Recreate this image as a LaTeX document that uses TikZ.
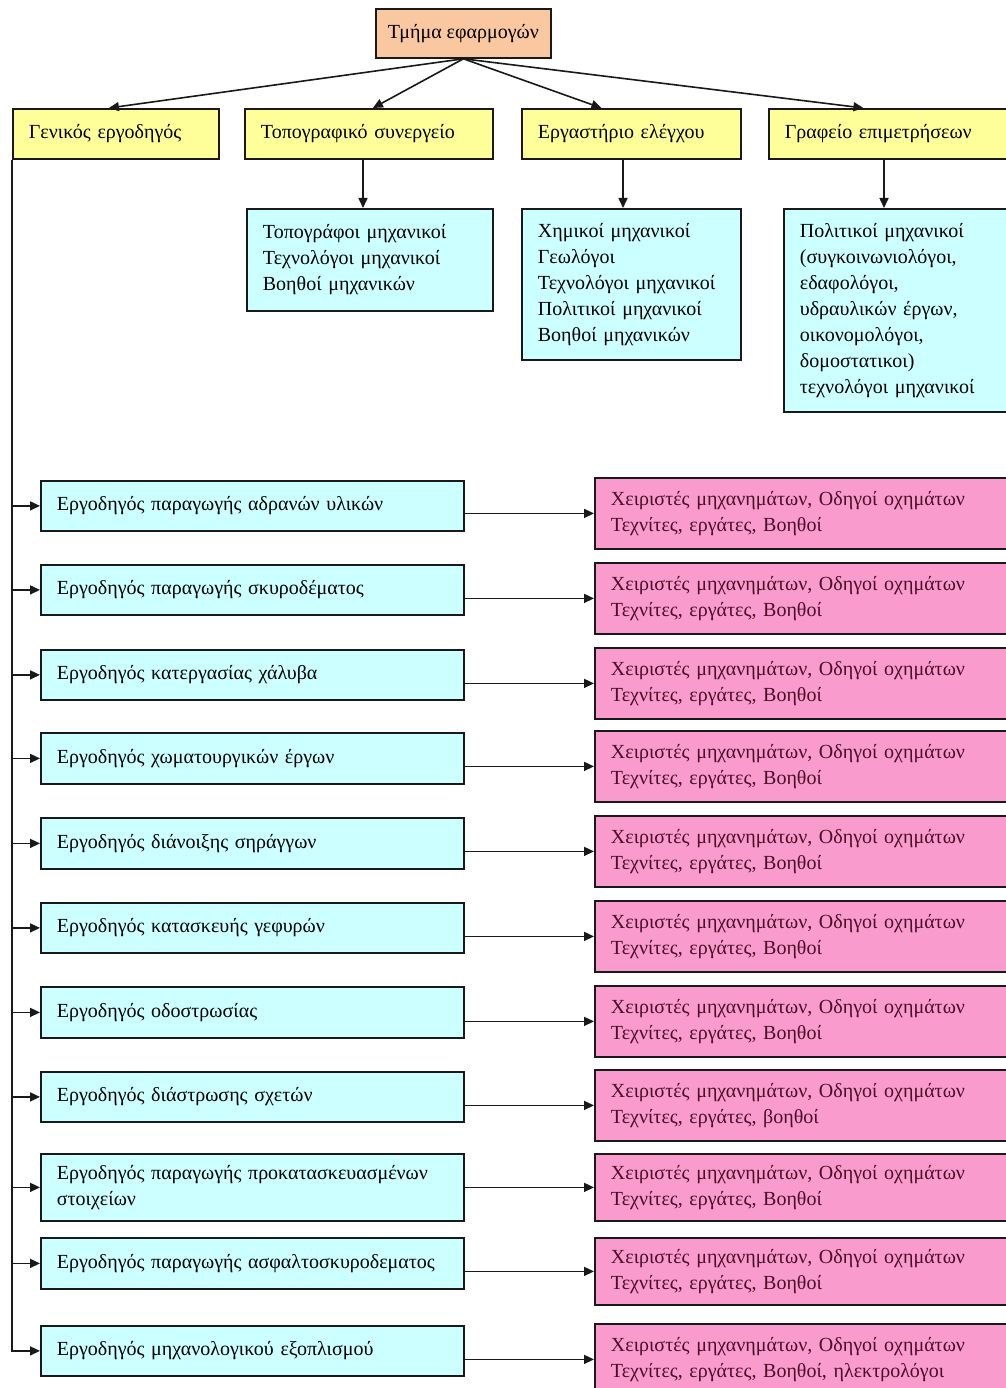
\documentclass[tikz,border=0pt]{standalone}
\usepackage{fontspec}
\setmainfont{Liberation Serif}
\usetikzlibrary{arrows.meta}
\definecolor{orangebox}{RGB}{250,200,160}
\definecolor{yellowbox}{RGB}{255,255,153}
\definecolor{cyanbox}{RGB}{204,255,255}
\definecolor{pinkbox}{RGB}{250,155,205}
\definecolor{pinktext}{RGB}{75,15,40}
\definecolor{edge}{RGB}{25,25,25}
\begin{document}
\begin{tikzpicture}[x=1pt,y=-1pt,
  bx/.style={draw=edge, line width=1.8pt, anchor=north west, align=left,
    inner xsep=16pt, inner ysep=0pt, font=\fontsize{20}{26}\selectfont},
  ob/.style={bx, fill=orangebox, inner xsep=4pt, align=center},
  yb/.style={bx, fill=yellowbox, minimum height=50pt},
  cb/.style={bx, fill=cyanbox},
  lb/.style={bx, fill=cyanbox, text width=391pt},
  pb/.style={bx, fill=pinkbox, text width=387pt, text=pinktext},
  arr/.style={draw=edge, line width=1.6pt, -{Triangle[length=10pt,width=9pt]}}
]
\useasboundingbox[fill=white] (0,0) rectangle (1005,1388);

% top
\node[ob, minimum width=175pt, minimum height=49pt] (top) at (375,8) {Τμήμα εφαρμογών};

% yellow row
\node[yb, text width=174pt] (gen) at (12,108) {Γενικός εργοδηγός};
\node[yb, text width=216pt] (topo) at (244,108) {Τοπογραφικό συνεργείο};
\node[yb, text width=187pt] (erg) at (521,108) {Εργαστήριο ελέγχου};
\node[yb, text width=213pt] (graf) at (768,108) {Γραφείο επιμετρήσεων};

% cyan staff boxes
\node[cb, text width=214pt, minimum height=102pt] (c1) at (246,208)
  {Τοπογράφοι μηχανικοί\\Τεχνολόγοι μηχανικοί\\Βοηθοί μηχανικών};
\node[cb, text width=187pt, minimum height=151pt] (c2) at (521,208)
  {Χημικοί μηχανικοί\\Γεωλόγοι\\Τεχνολόγοι μηχανικοί\\Πολιτικοί μηχανικοί\\Βοηθοί μηχανικών};
\node[cb, text width=198pt, minimum height=203pt] (c3) at (783,208)
  {Πολιτικοί μηχανικοί\\(συγκοινωνιολόγοι,\\εδαφολόγοι,\\υδραυλικών έργων,\\οικονομολόγοι,\\δομοστατικοι)\\τεχνολόγοι μηχανικοί};

% top arrows
\draw[arr] (top.south) -- ([xshift=-7pt]gen.north);
\draw[arr] (top.south) -- ([xshift=4pt]topo.north);
\draw[arr] (top.south) -- ([xshift=-30pt]erg.north);
\draw[arr] (top.south) -- ([xshift=-28pt]graf.north);

% vertical arrows
\draw[arr] (topo.south -| 363,0) -- (c1.north -| 363,0);
\draw[arr] (erg.south -| 623,0) -- (c2.north -| 623,0);
\draw[arr] (graf.south -| 884,0) -- (c3.north -| 884,0);

% left foremen boxes
\node[lb, minimum height=50pt] (l1) at (40,480) {Εργοδηγός παραγωγής αδρανών υλικών};
\node[lb, minimum height=50pt] (l2) at (40,564) {Εργοδηγός παραγωγής σκυροδέματος};
\node[lb, minimum height=50pt] (l3) at (40,649) {Εργοδηγός κατεργασίας χάλυβα};
\node[lb, minimum height=51pt] (l4) at (40,732) {Εργοδηγός χωματουργικών έργων};
\node[lb, minimum height=51pt] (l5) at (40,817) {Εργοδηγός διάνοιξης σηράγγων};
\node[lb, minimum height=50pt] (l6) at (40,902) {Εργοδηγός κατασκευής γεφυρών};
\node[lb, minimum height=51pt] (l7) at (40,986) {Εργοδηγός οδοστρωσίας};
\node[lb, minimum height=50pt] (l8) at (40,1071) {Εργοδηγός διάστρωσης σχετών};
\node[lb, minimum height=67pt] (l9) at (40,1153) {Εργοδηγός παραγωγής προκατασκευασμένων\\στοιχείων};
\node[lb, minimum height=51pt] (l10) at (40,1237) {Εργοδηγός παραγωγής ασφαλτοσκυροδεματος};
\node[lb, minimum height=50pt] (l11) at (40,1325) {Εργοδηγός μηχανολογικού εξοπλισμού};

% pink worker boxes
\node[pb, minimum height=71pt] (p1) at (594,477) {Χειριστές μηχανημάτων, Οδηγοί οχημάτων\\Τεχνίτες, εργάτες, Βοηθοί};
\node[pb, minimum height=71pt] (p2) at (594,562) {Χειριστές μηχανημάτων, Οδηγοί οχημάτων\\Τεχνίτες, εργάτες, Βοηθοί};
\node[pb, minimum height=71pt] (p3) at (594,647) {Χειριστές μηχανημάτων, Οδηγοί οχημάτων\\Τεχνίτες, εργάτες, Βοηθοί};
\node[pb, minimum height=71pt] (p4) at (594,730) {Χειριστές μηχανημάτων, Οδηγοί οχημάτων\\Τεχνίτες, εργάτες, Βοηθοί};
\node[pb, minimum height=71pt] (p5) at (594,815) {Χειριστές μηχανημάτων, Οδηγοί οχημάτων\\Τεχνίτες, εργάτες, Βοηθοί};
\node[pb, minimum height=71pt] (p6) at (594,900) {Χειριστές μηχανημάτων, Οδηγοί οχημάτων\\Τεχνίτες, εργάτες, Βοηθοί};
\node[pb, minimum height=71pt] (p7) at (594,985) {Χειριστές μηχανημάτων, Οδηγοί οχημάτων\\Τεχνίτες, εργάτες, Βοηθοί};
\node[pb, minimum height=71pt] (p8) at (594,1069) {Χειριστές μηχανημάτων, Οδηγοί οχημάτων\\Τεχνίτες, εργάτες, βοηθοί};
\node[pb, minimum height=67pt] (p9) at (594,1153) {Χειριστές μηχανημάτων, Οδηγοί οχημάτων\\Τεχνίτες, εργάτες, Βοηθοί};
\node[pb, minimum height=67pt] (p10) at (594,1237) {Χειριστές μηχανημάτων, Οδηγοί οχημάτων\\Τεχνίτες, εργάτες, Βοηθοί};
\node[pb, minimum height=71pt] (p11) at (594,1323) {Χειριστές μηχανημάτων, Οδηγοί οχημάτων\\Τεχνίτες, εργάτες, Βοηθοί, ηλεκτρολόγοι};

% trunk and branches
\draw[arr] (gen.south west) |- (l11.west);
\foreach \i in {1,...,10}{
  \draw[arr] (gen.south west |- l\i.west) -- (l\i.west);
}
\foreach \i in {1,...,11}{
  \draw[arr] (l\i.east |- p\i.west) -- (p\i.west);
}
\end{tikzpicture}
\end{document}
